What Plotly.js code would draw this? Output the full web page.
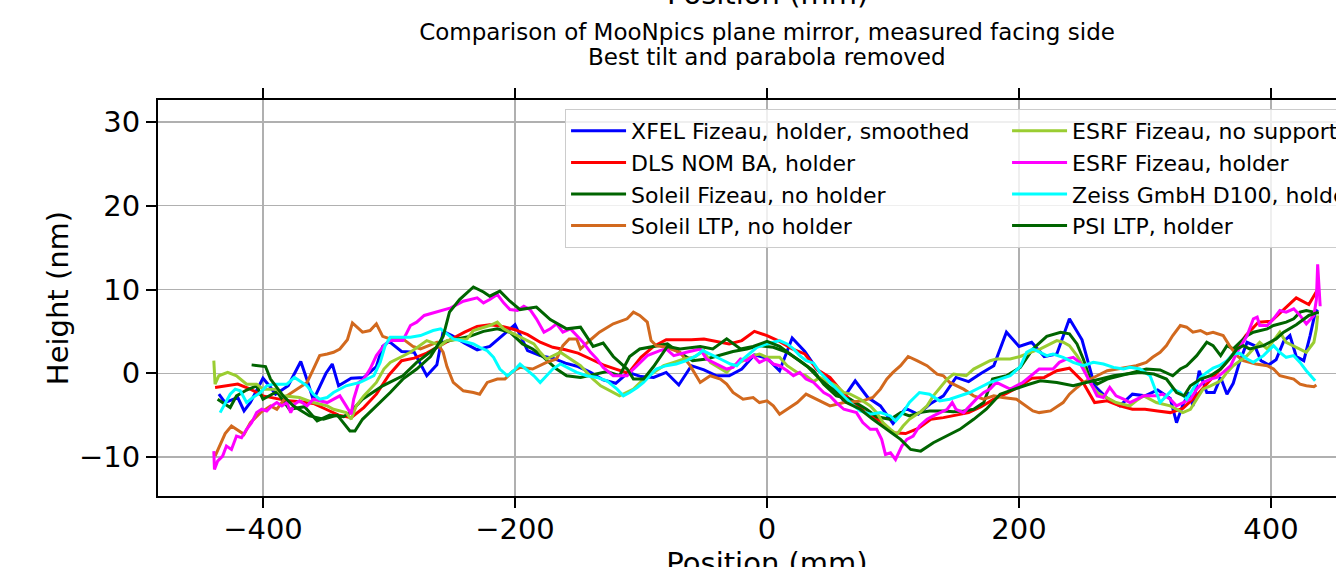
<!DOCTYPE html>
<html>
<head>
<meta charset="utf-8">
<script src="https://cdn.plot.ly/plotly-3.0.1.min.js"></script>
<style>
  html, body { margin: 0; padding: 0; overflow: hidden; background: #ffffff; }
  #chart { position: absolute; left: 0; top: -30px; width: 1380px; height: 627px; }
</style>
</head>
<body>
<div id="chart"></div>
<script>
// ---------------- data ----------------
const seriesNames = [
  "XFEL Fizeau, holder, smoothed",
  "DLS NOM BA, holder",
  "Soleil Fizeau, no holder",
  "Soleil LTP, no holder",
  "ESRF Fizeau, no support",
  "ESRF Fizeau, holder",
  "Zeiss GmbH D100, holder",
  "PSI LTP, holder"
];
const seriesColors = ["#0000ff", "#ff0000", "#006400", "#d2691e", "#9acd32", "#ff00ff", "#00ffff", "#006400"];
const legendRanks = [1, 3, 5, 7, 2, 4, 6, 8];

const xfelX = [-435,-430,-420,-415,-410,-400,-395,-390,-380,-370,-365,-360,-350,-345,-340,-330,-320,-310,-305,-300,-290,-280,-270,-262,-257,-250,-240,-230,-220,-210,-200,-190,-180,-170,-160,-150,-140,-130,-120,-110,-100,-90,-80,-70,-60,-50,-40,-30,-20,-10,0,10,20,30,40,50,60,70,80,90,100,110,120,130,140,150,160,170,180,190,200,210,220,230,240,250,260,270,280,290,300,310,320,325,330,335,338,343,349,355,360,365,370,375,381,387,392,398,404,410,415,420,426,431,435,437];
const xfelY = [-2.5,-3.5,-2.9,-4.5,-3.5,-0.6,-1.5,-2.5,-1.5,1.4,-0.8,-3.2,0,1.1,-1.5,-0.6,-0.5,0.8,3.2,3.8,2.6,2.5,-0.3,1.0,5.0,4.5,3.6,2.8,3.2,4.5,5.8,2.7,2.1,1.8,1.2,0.8,0.1,-0.8,-1.2,0.1,-0.4,-0.5,0.1,-1.4,0.9,0.4,-0.3,-0.3,0.5,2.2,1.8,0.3,4.2,2.6,0.4,-0.7,-3.1,-0.9,-2.9,-3.9,-6.0,-4.2,-4.9,-3.6,-2.7,-0.5,-1.0,0.0,0.9,4.9,3.2,3.7,2.0,2.3,6.5,4.0,-1.5,-3.0,-3.9,-2.5,-2.7,-2.0,-3.0,-5.9,-3.8,-2.3,-3.9,0.3,-2.3,-2.3,-0.5,-2.5,-1.2,1.3,3.7,3.3,1.5,1.0,1.6,3.8,4.5,2.0,1.5,4.5,7.2,7.6];

const dlsX = [-438,-430,-420,-410,-400,-390,-380,-370,-360,-350,-340,-330,-320,-310,-300,-290,-280,-270,-260,-250,-240,-230,-220,-210,-200,-190,-180,-170,-160,-150,-140,-130,-120,-110,-100,-90,-80,-70,-60,-50,-40,-30,-20,-10,0,10,20,30,40,50,60,70,80,90,100,110,120,130,140,150,160,170,180,190,200,210,220,230,240,250,260,270,280,290,300,310,320,330,340,350,360,370,380,390,400,410,420,430,437];
const dlsY = [-1.7,-1.5,-1.3,-1.9,-2.7,-3.0,-3.3,-3.4,-3.6,-4.3,-5.0,-5.3,-4.1,-2.5,-0.2,1.5,1.8,2.4,3.3,4.1,4.9,5.6,5.8,5.6,5.2,4.6,3.7,3.1,2.8,2.4,1.7,1.0,0.5,0.0,1.9,3.2,4.0,4.0,4.0,4.1,3.8,3.5,3.9,5.0,4.5,3.8,2.9,2.3,0.4,-0.5,-2.3,-3.7,-4.9,-5.7,-7.1,-7.2,-6.6,-5.5,-5.3,-5.0,-4.7,-4.0,-3.1,-2.4,-1.6,-0.6,-0.5,0.3,0.6,-0.9,-3.5,-3.3,-3.9,-4.3,-4.3,-4.5,-4.7,-4.2,-2.8,-1.1,0.5,2.3,4.5,6.1,6.2,7.6,9.0,8.2,10.0];

const soleilFizX = [-436,-426,-421,-413,-405,-400,-389,-379,-367,-357,-347,-336,-331,-321,-305,-289,-278,-267,-257,-246,-236,-225,-214,-204,-194,-186,-178,-167,-159,-148,-138,-127,-117,-109,-101,-90,-79,-69,-59,-48,-37,-27,-16,-6,5,16,26,37,45,55,66,79,87,98,106,113,121,129,140,148,156,164,172,179,190,201,211,222,233,240,246,251,256,262,270,280,291,301,312,322,328,333,341,349,354,360,365,370,381,386,397,402,412,418,423,428,434,438];
const soleilFizY = [-3.1,-4.1,-2.7,-2.0,-1.5,-3.1,-2.2,-4.3,-4.0,-5.7,-5.0,-5.2,-4.7,-3.1,-1.5,-0.3,1.3,2.5,3.7,4.1,4.4,5.0,5.3,4.9,3.5,2.9,2.0,0.5,-0.3,-0.5,-0.2,0.2,-0.3,2.0,2.9,3.2,3.5,2.4,1.5,1.7,2.2,2.6,2.9,3.3,3.1,2.5,1.5,0.3,-1.3,-2.7,-3.1,-4.3,-5.2,-5.5,-4.7,-5.1,-4.7,-4.5,-4.5,-4.6,-4.5,-4.3,-3.5,-0.7,-0.3,0.7,2.9,4.4,4.9,4.7,3.5,1.7,-0.5,-1.3,-0.7,-0.3,0.1,0.5,0.4,-0.3,0.5,0.9,2.1,3.7,3.3,2.1,3.3,2.9,4.5,4.9,5.3,5.7,6.1,6.5,7.3,7.5,7.3,7.2];

const soleilLtpX = [-438,-430,-425,-421,-415,-410,-402,-394,-389,-381,-373,-365,-360,-355,-349,-344,-339,-333,-329,-321,-315,-310,-305,-299,-289,-281,-275,-262,-257,-254,-249,-241,-233,-228,-222,-214,-208,-202,-196,-186,-175,-167,-162,-157,-151,-148,-140,-133,-122,-111,-106,-101,-95,-92,-88,-80,-69,-61,-53,-45,-37,-32,-27,-19,-11,-6,0,5,10,16,24,31,39,50,61,76,84,90,95,100,106,112,119,127,135,140,145,150,156,164,172,180,187,198,206,211,216,225,235,240,246,251,262,270,278,293,301,306,312,317,322,328,333,338,344,349,354,362,367,373,378,388,397,402,407,418,423,428,434,436];
const soleilLtpY = [-9.9,-7.2,-6.3,-6.7,-7.3,-5.9,-4.7,-3.9,-4.3,-2.7,-1.9,-1.1,0.5,2.1,2.3,2.5,2.9,4.0,6.0,4.9,5.1,5.9,4.4,4.1,4.1,3.2,2.9,3.7,2.5,0.8,-1.1,-2.1,-2.3,-2.5,-1.1,-0.7,-0.7,0.2,0.7,0.5,1.3,1.7,3.3,4.1,4.1,2.9,4.0,4.9,5.9,6.5,7.3,6.9,6.1,3.9,3.3,3.1,2.5,0.9,-1.1,-0.3,-0.7,-1.3,-2.3,-3.1,-2.9,-3.5,-3.3,-3.9,-4.9,-4.3,-3.5,-2.5,-3.1,-3.9,-3.5,-3.3,-2.9,-1.9,-0.7,0.1,0.9,2.0,1.5,0.9,-0.1,-0.3,-1.1,-1.5,-1.9,-2.7,-3.1,-2.7,-2.9,-3.1,-3.9,-4.5,-4.7,-4.5,-3.5,-2.5,-1.7,-1.1,-0.3,0.3,0.5,0.9,1.3,1.9,2.5,3.3,4.5,5.7,5.5,4.9,5.1,4.7,4.9,4.5,3.3,2.1,1.5,1.1,0.9,0.5,-0.3,-0.7,-1.3,-1.5,-1.6,-1.4];

const esrfNoSupX = [-439,-438,-435,-428,-421,-418,-413,-405,-400,-389,-384,-371,-360,-349,-344,-334,-330,-326,-320,-310,-304,-299,-283,-270,-259,-254,-238,-233,-228,-220,-214,-209,-204,-198,-185,-180,-175,-164,-148,-138,-132,-122,-117,-106,-98,-90,-82,-74,-66,-58,-50,-45,-37,-32,-27,-21,-16,-11,-6,0,10,16,24,31,37,42,55,61,66,74,82,87,92,98,103,108,113,121,127,132,143,148,158,164,169,177,182,193,201,209,217,225,230,235,240,246,251,256,262,267,277,288,293,299,309,320,325,330,336,341,346,352,360,365,370,381,391,397,407,412,423,428,434,436,437];
const esrfNoSupY = [1.5,-1.3,-0.3,0.1,-0.3,-0.7,-1.3,-1.3,-1.9,-1.9,-2.7,-2.9,-3.5,-3.9,-4.3,-4.7,-5.5,-3.9,-2.7,-1.1,0.5,1.3,2.5,3.9,3.3,3.9,4.1,5.1,5.3,5.7,6.1,5.3,4.9,4.5,3.5,2.5,1.7,2.5,0.9,-0.7,-1.5,-2.3,-2.7,-1.9,-0.7,0.1,0.9,1.3,1.7,1.9,2.7,1.3,0.5,0.1,0.9,1.3,1.7,2.1,2.3,1.9,1.9,0.9,0.1,-0.3,-1.0,-0.5,-1.5,-2.3,-2.5,-3.1,-3.9,-4.7,-5.9,-6.7,-7.3,-6.3,-5.5,-4.7,-3.9,-2.7,-0.7,-0.1,-0.3,0.5,0.9,1.5,1.7,1.7,2.0,2.5,2.9,3.5,3.9,3.7,3.3,2.1,0.9,-1.1,-2.3,-2.7,-3.5,-3.9,-3.3,-2.7,-3.5,-3.9,-4.3,-4.7,-4.3,-3.1,-1.9,-1.5,-0.9,0.1,0.9,2.1,3.7,2.9,4.9,3.7,2.9,2.5,3.7,5.3,6.9];

const esrfHolderX = [-439,-438.5,-436,-432,-429,-425,-421,-417,-413,-409,-405,-401,-397,-393,-389,-385,-381,-378,-375,-371,-365,-360,-349,-339,-334,-330,-328,-324,-320,-315,-310,-304,-299,-289,-283,-278,-272,-262,-251,-241,-230,-225,-220,-214,-209,-204,-198,-193,-188,-183,-177,-172,-167,-162,-156,-151,-146,-140,-135,-130,-122,-111,-106,-95,-85,-80,-74,-64,-53,-48,-43,-37,-32,-27,-21,-16,-11,-6,0,5,10,16,21,26,31,37,45,50,55,61,66,71,76,82,87,91,94,98,102,104,107,111,116,121,127,132,137,143,147,150,156,161,166,172,177,182,193,203,209,216,227,232,238,243,248,254,258,262,267,272,277,283,288,299,309,314,320,325,330,336,341,346,352,357,362,368,373,381,386,389,391,397,402,407,412,418,423,428,434,436,437,438,439];
const esrfHolderY = [-9.3,-11.5,-10.5,-9.9,-8.7,-9.1,-7.5,-7.7,-6.7,-5.9,-4.7,-4.3,-4.5,-3.9,-3.5,-3.9,-3.5,-4.7,-3.7,-3.3,-3.9,-3.1,-3.5,-2.7,-3.9,-4.9,-3.1,-1.1,-0.7,0.5,2.1,3.3,3.9,3.9,5.7,6.1,6.9,7.3,7.8,8.6,9.0,8.4,8.8,9.4,8.4,7.6,7.5,8.0,7.6,6.5,4.9,5.3,5.9,4.9,5.3,4.5,3.7,2.5,1.7,0.7,-0.3,-0.3,0.5,2.1,2.7,2.9,2.1,2.5,2.9,1.7,1.3,0.9,0.5,0.7,1.7,1.5,2.1,1.3,1.7,1.1,0.9,0.3,-0.3,0.1,-0.7,-1.1,-2.3,-2.7,-3.5,-4.3,-4.5,-4.7,-5.9,-6.7,-6.7,-7.9,-9.7,-9.5,-10.3,-9.7,-8.7,-7.9,-7.5,-6.3,-5.5,-5.1,-4.7,-4.3,-3.5,-4.3,-4.7,-3.9,-3.1,-2.3,-1.9,-1.1,-1.9,-1.1,-0.4,0.5,0.5,1.3,1.7,1.9,1.3,-0.3,-1.5,-2.7,-2.9,-1.7,-2.7,-3.1,-3.5,-2.7,-2.7,-2.5,-3.1,-3.9,-3.5,-3.1,-1.9,-1.1,-0.7,-0.5,0.1,0.9,2.5,4.5,6.5,6.7,5.7,5.7,6.5,7.5,7.3,7.7,6.9,5.9,6.9,8.8,13.0,10.8,8.0];

const zeissX = [-434,-430,-426,-422,-418,-413,-408,-402,-397,-392,-381,-375,-370,-365,-360,-355,-349,-344,-334,-323,-312,-307,-303,-299,-283,-275,-265,-259,-254,-249,-243,-238,-233,-228,-222,-217,-212,-206,-201,-196,-191,-185,-180,-170,-164,-151,-143,-135,-127,-119,-114,-109,-103,-98,-93,-88,-80,-72,-64,-56,-51,-45,-37,-29,-24,-19,-13,-8,0,10,16,21,26,31,37,42,50,58,66,74,82,90,98,102,108,113,121,129,137,145,153,161,169,177,185,193,201,206,211,216,222,227,235,243,251,259,267,275,283,288,296,304,309,312,317,322,328,333,338,344,349,354,359,365,370,375,381,386,394,402,407,412,418,423,428,435];
const zeissY = [-4.7,-3.5,-2.5,-1.9,-2.1,-3.5,-2.9,-2.3,-1.5,-1.3,-1.3,-0.5,-1.0,-1.5,-2.5,-3.1,-2.9,-2.3,-1.5,-1.1,-0.3,1.3,3.3,4.3,4.3,4.5,5.1,5.3,4.7,4.1,3.9,3.7,3.5,3.1,2.7,1.9,0.5,-0.3,0.3,1.1,0.5,-0.3,-1.1,0.5,1.1,0.1,-0.3,-0.5,-0.9,-1.9,-2.7,-2.3,-1.7,-1.1,-0.3,0.5,0.9,1.1,1.5,2.1,2.7,2.3,1.7,1.1,0.9,1.7,2.5,3.1,3.5,3.9,3.5,2.9,2.1,1.5,1.2,0.1,-1.1,-2.3,-3.5,-4.5,-4.9,-4.7,-5.1,-5.7,-4.7,-3.5,-2.3,-2.5,-3.3,-3.1,-2.7,-2.3,-1.7,-1.1,-0.7,-0.3,0.8,2.5,2.9,2.5,2.1,2.3,1.9,1.3,0.9,1.3,1.1,0.7,0.5,0.7,0.5,-0.3,-2.3,-3.5,-2.7,-1.9,-2.3,-3.1,-1.9,-0.5,0.1,0.6,0.9,1.5,2.3,2.4,1.7,1.3,2.1,3.3,2.5,1.9,2.1,1.3,0.3,-0.9];

const psiX = [-409,-398,-394,-384,-376,-363,-352,-341,-331,-327,-321,-310,-299,-289,-278,-267,-257,-252,-244,-233,-225,-220,-212,-204,-196,-183,-172,-159,-148,-138,-130,-122,-111,-106,-98,-90,-79,-69,-53,-43,-32,-21,-11,0,10,21,32,42,52,63,74,84,95,106,114,122,132,143,153,164,174,185,196,206,217,230,243,254,264,275,285,296,307,317,325,331,336,344,352,360,367,373,378,383,394,399,404,410,420,430,436];
const psiY = [1.0,0.8,-0.7,-2.7,-3.9,-5.1,-5.5,-5.0,-6.9,-6.9,-5.5,-3.9,-2.3,-0.7,0.5,2.0,4.4,7.3,8.8,10.3,9.7,9.2,9.8,8.6,7.6,7.9,6.4,5.3,5.5,3.2,3.6,2.0,0.5,-0.7,-0.7,0.8,3.2,2.9,3.2,2.9,4.1,2.9,3.2,3.8,3.2,2.0,0.8,-0.7,-1.9,-3.5,-4.3,-5.5,-6.7,-7.9,-9.1,-9.3,-8.3,-7.5,-6.7,-5.5,-4.3,-2.5,-1.9,-1.4,-0.9,-1.1,-1.5,-1.1,-0.7,-0.3,-0.1,0.1,-0.1,-0.7,-2.3,-2.7,-1.5,-0.7,-0.3,0.5,1.7,2.9,3.3,2.9,3.3,3.7,4.1,4.9,5.8,6.9,7.2];

const xTickVals = [-400, -200, 0, 200, 400];
const yTickVals = [-10, 0, 10, 20, 30];

const titleLine1 = "Comparison of MooNpics plane mirror, measured facing side";
const titleLine2 = "Best tilt and parabola removed";

// ---------------- traces ----------------
const allX = [xfelX, dlsX, soleilFizX, soleilLtpX, esrfNoSupX, esrfHolderX, zeissX, psiX];
const allY = [xfelY, dlsY, soleilFizY, soleilLtpY, esrfNoSupY, esrfHolderY, zeissY, psiY];

const traces = seriesNames.map((name, i) => ({
  type: "scatter",
  mode: "lines",
  name: name,
  x: allX[i],
  y: allY[i],
  line: { color: seriesColors[i], width: 3 },
  legendrank: legendRanks[i],
  hoverinfo: "skip"
}));

const font = "DejaVu Sans, Verdana, sans-serif";
const minusLabel = v => v < 0 ? "\u2212" + Math.abs(v) : String(v);

const layout = {
  width: 1380,
  height: 627,
  margin: { l: 158, r: 4, t: 130, b: 101, pad: 0, autoexpand: false },
  paper_bgcolor: "#ffffff",
  plot_bgcolor: "#ffffff",
  font: { family: font, color: "#000000" },
  showlegend: true,
  title: {
    text: titleLine1,
    font: { family: font, size: 23, color: "#000000" },
    x: 0.5, xref: "paper", xanchor: "center",
    y: 1 - 62 / 627, yref: "container", yanchor: "middle"
  },
  xaxis: {
    range: [-483.3, 483.3],
    tickvals: xTickVals,
    ticktext: xTickVals.map(minusLabel),
    ticks: "outside", ticklen: 10, tickwidth: 2, tickcolor: "#000000",
    ticklabelstandoff: -4,
    tickfont: { family: font, size: 29, color: "#000000" },
    showline: true, linewidth: 2, linecolor: "#000000", mirror: "ticks",
    showgrid: true, gridcolor: "#b0b0b0", gridwidth: 1.2,
    zeroline: false,
    title: { text: "Position (mm)", font: { family: font, size: 29, color: "#000000" }, standoff: 4 }
  },
  yaxis: {
    range: [-14.66, 32.63],
    tickvals: yTickVals,
    ticktext: yTickVals.map(minusLabel),
    ticks: "outside", ticklen: 10, tickwidth: 2, tickcolor: "#000000",
    tickfont: { family: font, size: 29, color: "#000000" },
    showline: true, linewidth: 2, linecolor: "#000000", mirror: "ticks",
    showgrid: true, gridcolor: "#b0b0b0", gridwidth: 1.2,
    zeroline: false,
    title: { text: "Height (nm)", font: { family: font, size: 29, color: "#000000" }, standoff: 2 }
  },
  legend: {
    orientation: "h",
    x: 0.3342, xanchor: "left",
    y: 1 - 9 / 396, yanchor: "top",
    bgcolor: "rgba(255,255,255,0.8)",
    bordercolor: "#cccccc", borderwidth: 1,
    font: { family: font, size: 22, color: "#000000" },
    entrywidth: 371, entrywidthmode: "pixels",
    itemwidth: 55,
    traceorder: "normal"
  },
  annotations: [
    {
      text: titleLine2,
      xref: "paper", yref: "paper",
      x: 0.5, y: 1 + (130 - 87) / 396, xanchor: "center", yanchor: "middle",
      showarrow: false,
      font: { family: font, size: 23, color: "#000000" }
    },
    {
      text: "Position (mm)",
      xref: "paper", yref: "paper",
      x: 0.5, y: 1 + (130 - 24) / 396, xanchor: "center", yanchor: "middle",
      showarrow: false,
      font: { family: font, size: 29, color: "#000000" }
    }
  ]
};

Plotly.newPlot("chart", traces, layout, { staticPlot: true, displayModeBar: false });
</script>
</body>
</html>
